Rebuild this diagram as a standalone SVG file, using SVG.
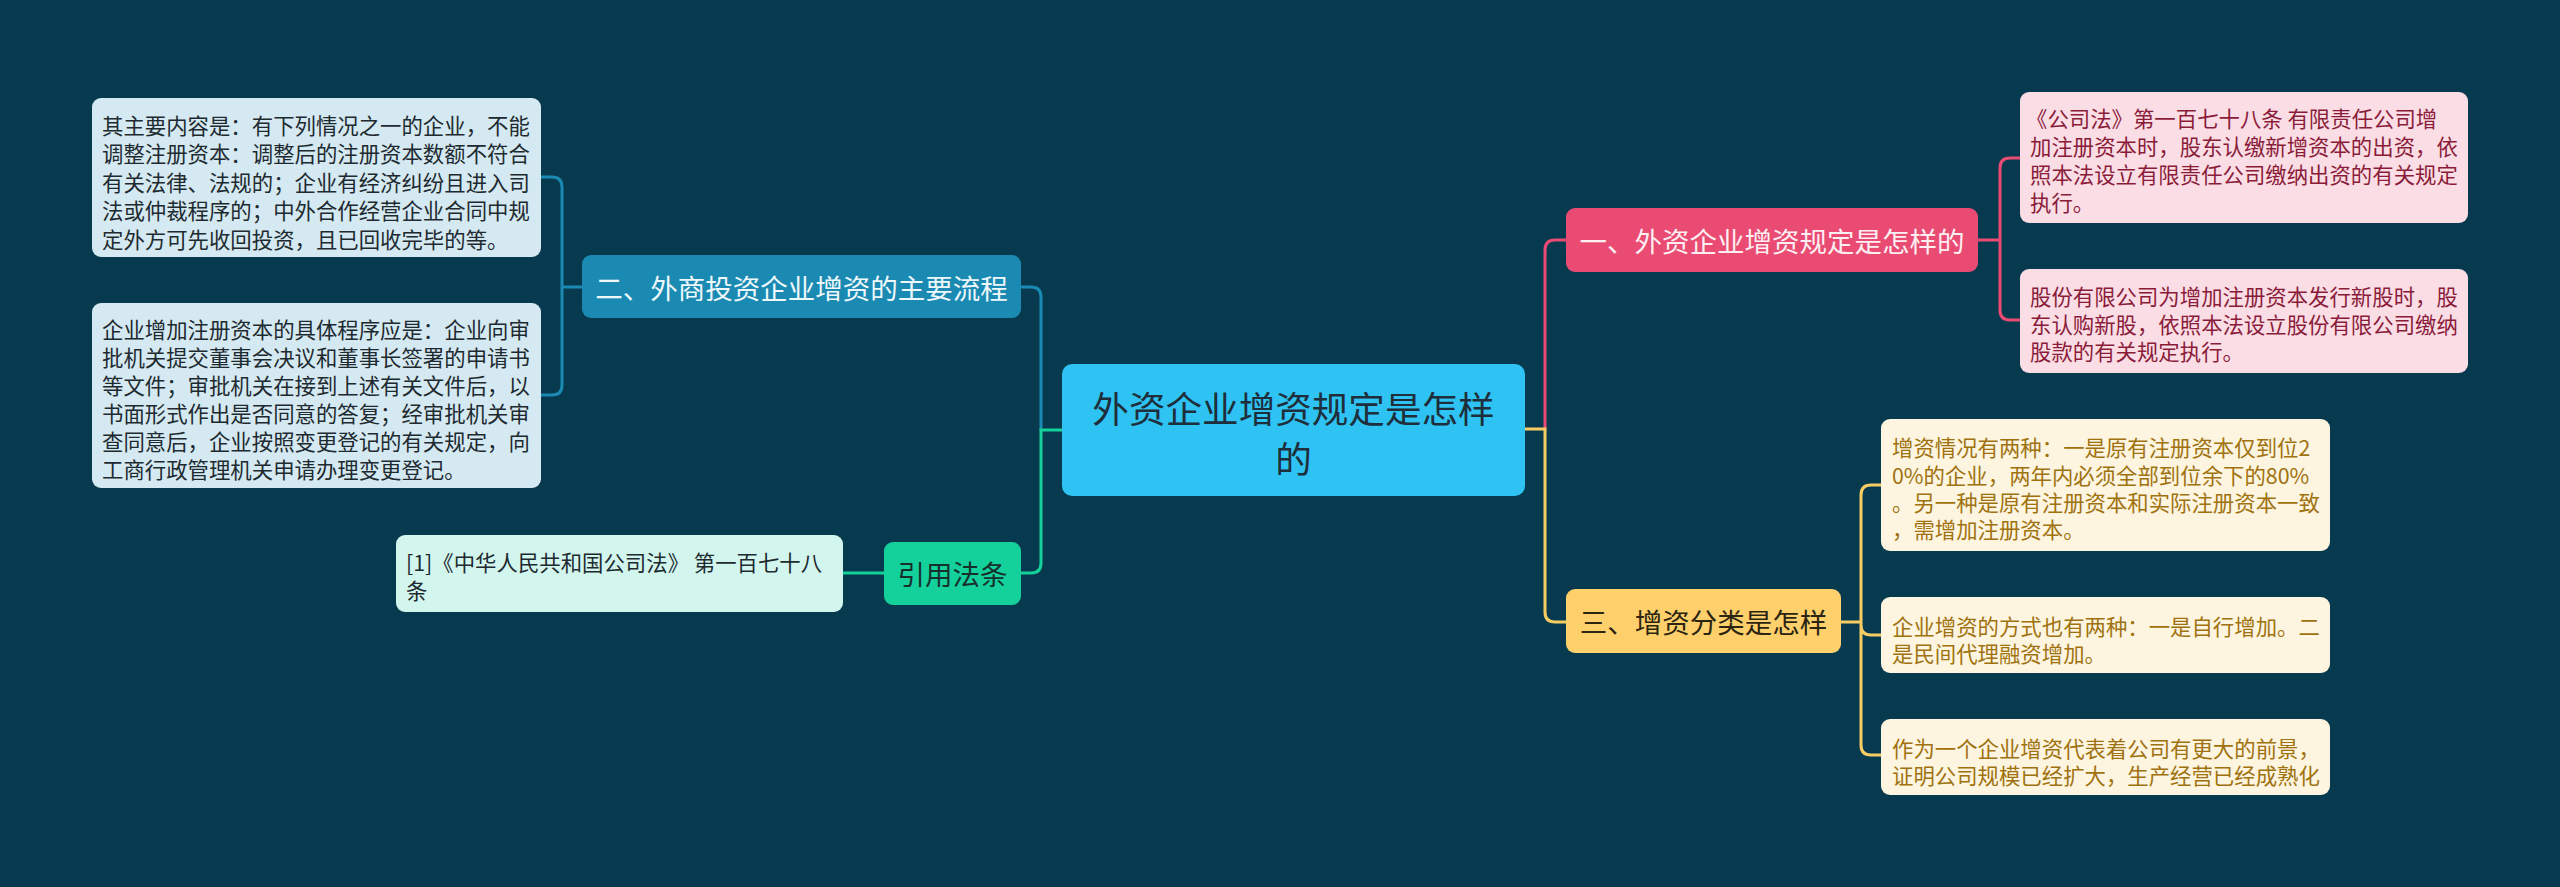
<svg xmlns="http://www.w3.org/2000/svg" width="2560" height="887" viewBox="0 0 2560 887">
<style>
text{font-family:"Noto Sans CJK SC","Liberation Sans",sans-serif;dominant-baseline:central}
.leaf{font-size:21.4px}
.main{font-size:27.5px;text-anchor:middle}
.c{fill:none;stroke-width:3;stroke-linecap:round}
</style>
<rect width="2560" height="887" fill="#083a4f"/>
<g id="connectors">
<path class="c" stroke="#1a8ab3" d="M582,287 H562 M541,177 H552 Q562,177 562,187 V385 Q562,395 552,395 H541"/>
<path class="c" stroke="#1a8ab3" d="M1021,287 H1031 Q1041,287 1041,297 V430"/>
<path class="c" stroke="#14d19c" d="M1062,430 H1041 V563 Q1041,573 1031,573 H1021 M884,573 H843"/>
<path class="c" stroke="#e94b72" d="M1545,429 V250 Q1545,240 1555,240 H1566"/>
<path class="c" stroke="#e94b72" d="M1978,240 H2000 M2020,158 H2010 Q2000,158 2000,168 V310 Q2000,320 2010,320 H2020"/>
<path class="c" stroke="#f7cd63" d="M1525,429 H1545 V612 Q1545,622 1555,622 H1566"/>
<path class="c" stroke="#f7cd63" d="M1841,622 H1861 M1881,485 H1871 Q1861,485 1861,495 V745 Q1861,755 1871,755 H1881 M1861,625 Q1861,635 1871,635 H1881"/>
</g>
<g id="center">
<rect x="1062" y="364" width="463" height="132" rx="10" fill="#2ec3f3"/>
<text x="1293.5" y="407" font-size="36.6" text-anchor="middle" fill="#1e2e3a">外资企业增资规定是怎样</text>
<text x="1293.5" y="457" font-size="36.6" text-anchor="middle" fill="#1e2e3a">的</text>
</g>
<g id="n2">
<rect x="582" y="255" width="439" height="63" rx="9" fill="#1a8ab3"/>
<text class="main" x="801.5" y="287" fill="#eef8fb">二、外商投资企业增资的主要流程</text>
</g>
<g id="n2a">
<rect x="92" y="98" width="449" height="159" rx="9" fill="#d4e9f1"/>
<text class="leaf" fill="#1e2a30"><tspan x="102" y="123.5">其主要内容是：有下列情况之一的企业，不能</tspan><tspan x="102" y="152">调整注册资本：调整后的注册资本数额不符合</tspan><tspan x="102" y="180.5">有关法律、法规的；企业有经济纠纷且进入司</tspan><tspan x="102" y="209">法或仲裁程序的；中外合作经营企业合同中规</tspan><tspan x="102" y="237.5">定外方可先收回投资，且已回收完毕的等。</tspan></text>
</g>
<g id="n2b">
<rect x="92" y="303" width="449" height="185" rx="9" fill="#d4e9f1"/>
<text class="leaf" fill="#1e2a30"><tspan x="102" y="328">企业增加注册资本的具体程序应是：企业向审</tspan><tspan x="102" y="356">批机关提交董事会决议和董事长签署的申请书</tspan><tspan x="102" y="384">等文件；审批机关在接到上述有关文件后，以</tspan><tspan x="102" y="412">书面形式作出是否同意的答复；经审批机关审</tspan><tspan x="102" y="440">查同意后，企业按照变更登记的有关规定，向</tspan><tspan x="102" y="468">工商行政管理机关申请办理变更登记。</tspan></text>
</g>
<g id="n4">
<rect x="884" y="542" width="137" height="63" rx="9" fill="#14d19c"/>
<text class="main" x="952.5" y="573" fill="#16302c">引用法条</text>
</g>
<g id="n4a">
<rect x="396" y="535" width="447" height="77" rx="9" fill="#d2f6ee"/>
<text class="leaf" fill="#1e2a30"><tspan x="406" y="561">[1]《中华人民共和国公司法》 第一百七十八</tspan><tspan x="406" y="589">条</tspan></text>
</g>
<g id="n1">
<rect x="1566" y="208" width="412" height="64" rx="9" fill="#e94b72"/>
<text class="main" x="1772" y="240" fill="#fdeef2">一、外资企业增资规定是怎样的</text>
</g>
<g id="n1a">
<rect x="2020" y="92" width="448" height="131" rx="9" fill="#fbdde5"/>
<text class="leaf" fill="#8a1c3a"><tspan x="2026" y="117">《公司法》第一百七十八条 有限责任公司增</tspan><tspan x="2030" y="145">加注册资本时，股东认缴新增资本的出资，依</tspan><tspan x="2030" y="173">照本法设立有限责任公司缴纳出资的有关规定</tspan><tspan x="2030" y="201">执行。</tspan></text>
</g>
<g id="n1b">
<rect x="2020" y="269" width="448" height="104" rx="9" fill="#fbdde5"/>
<text class="leaf" fill="#8a1c3a"><tspan x="2030" y="295">股份有限公司为增加注册资本发行新股时，股</tspan><tspan x="2030" y="323">东认购新股，依照本法设立股份有限公司缴纳</tspan><tspan x="2030" y="350">股款的有关规定执行。</tspan></text>
</g>
<g id="n3">
<rect x="1566" y="589" width="275" height="64" rx="9" fill="#fdd06c"/>
<text class="main" x="1703.5" y="621" fill="#2b2410">三、增资分类是怎样</text>
</g>
<g id="n3a">
<rect x="1881" y="419" width="449" height="132" rx="9" fill="#fdf5df"/>
<text class="leaf" fill="#a0720f"><tspan x="1892" y="446">增资情况有两种：一是原有注册资本仅到位2</tspan><tspan x="1892" y="474">0%的企业，两年内必须全部到位余下的80%</tspan><tspan x="1892" y="501">。另一种是原有注册资本和实际注册资本一致</tspan><tspan x="1892" y="528">，需增加注册资本。</tspan></text>
</g>
<g id="n3b">
<rect x="1881" y="597" width="449" height="76" rx="9" fill="#fdf5df"/>
<text class="leaf" fill="#a0720f"><tspan x="1892" y="625">企业增资的方式也有两种：一是自行增加。二</tspan><tspan x="1892" y="652">是民间代理融资增加。</tspan></text>
</g>
<g id="n3c">
<rect x="1881" y="719" width="449" height="76" rx="9" fill="#fdf5df"/>
<text class="leaf" fill="#a0720f"><tspan x="1892" y="747">作为一个企业增资代表着公司有更大的前景，</tspan><tspan x="1892" y="774">证明公司规模已经扩大，生产经营已经成熟化</tspan></text>
</g>
</svg>
